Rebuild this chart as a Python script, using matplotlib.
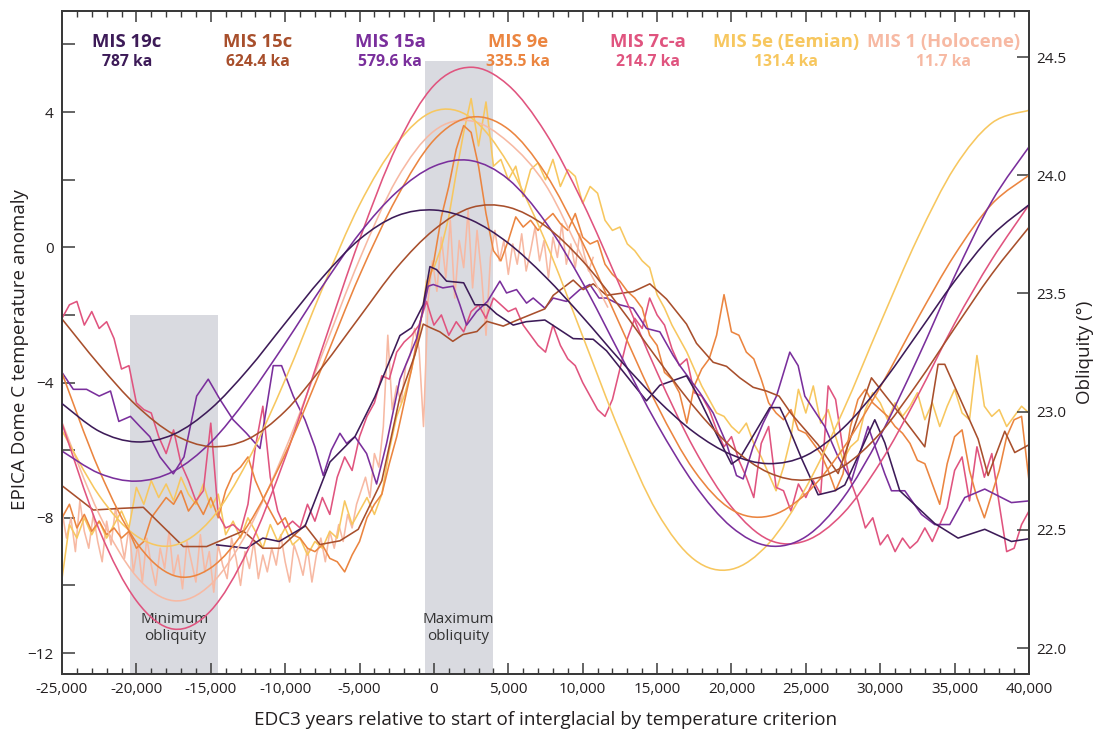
import numpy as np
import matplotlib
matplotlib.use("Agg")
import matplotlib.pyplot as plt
from matplotlib.ticker import MultipleLocator, FixedLocator, FuncFormatter
from matplotlib.path import Path
from matplotlib.patches import PathPatch

plt.rcParams['font.family'] = ['Open Sans', 'DejaVu Sans']

# ---------------- colours / labels ----------------
names = ["MIS 19c", "MIS 15c", "MIS 15a", "MIS 9e", "MIS 7c-a", "MIS 5e (Eemian)", "MIS 1 (Holocene)"]
ages = ["787 ka", "624.4 ka", "579.6 ka", "335.5 ka", "214.7 ka", "131.4 ka", "11.7 ka"]
colors = ["#3d1b58", "#a84f2c", "#7a2f9c", "#eb8540", "#e0547f", "#f7c75f", "#f7b9a3"]
label_x_px = [127, 258, 390, 518, 648, 786, 944]

# ---------------- obliquity (degrees) ----------------
obl_years = [-25000, -22500, -20000, -17500, -15000, -12500, -10000, -7500, -5000, -2500,
             0, 2500, 5000, 7500, 10000, 12500, 15000, 17500, 20000, 22500,
             25000, 27500, 30000, 32500, 35000, 37500, 40000]
obl_19c = [23.034, 22.917, 22.872, 22.904, 23.012, 23.178, 23.374, 23.567, 23.729, 23.828,
           23.853, 23.811, 23.713, 23.570, 23.400, 23.219, 23.051, 22.912, 22.818, 22.780,
           22.814, 22.930, 23.110, 23.329, 23.552, 23.745, 23.875]
obl_15c = [23.392, 23.198, 23.026, 22.904, 22.852, 22.884, 23.002, 23.189, 23.400, 23.609,
           23.769, 23.863, 23.865, 23.785, 23.637, 23.442, 23.225, 23.019, 22.850, 22.742,
           22.711, 22.768, 22.909, 23.119, 23.353, 23.582, 23.780]
obl_15a = [22.833, 22.739, 22.706, 22.748, 22.870, 23.061, 23.289, 23.530, 23.754, 23.929,
           24.038, 24.062, 23.983, 23.802, 23.545, 23.244, 22.947, 22.693, 22.512, 22.432,
           22.471, 22.634, 22.898, 23.223, 23.573, 23.890, 24.120]
obl_9e = [23.163, 22.752, 22.447, 22.307, 22.339, 22.520, 22.820, 23.192, 23.576, 23.905,
          24.149, 24.246, 24.195, 24.007, 23.714, 23.368, 23.027, 22.750, 22.586, 22.558,
          22.652, 22.844, 23.104, 23.392, 23.663, 23.878, 24.000]
obl_7ca = [22.950, 22.500, 22.200, 22.080, 22.158, 22.415, 22.805, 23.269, 23.728, 24.123,
           24.380, 24.457, 24.381, 24.180, 23.885, 23.532, 23.166, 22.842, 22.597, 22.458,
           22.454, 22.569, 22.784, 23.065, 23.373, 23.643, 23.875]
obl_5e = [22.920, 22.645, 22.474, 22.434, 22.543, 22.793, 23.135, 23.520, 23.875, 24.134,
          24.271, 24.243, 24.048, 23.720, 23.319, 22.915, 22.575, 22.374, 22.333, 22.442,
          22.678, 23.003, 23.373, 23.732, 24.033, 24.221, 24.275]
obl_1_years = [-25000, -22500, -20000, -17500, -15000, -12500, -10000, -7500, -5000, -2500,
               0, 2500, 5000, 7500, 10000, 11700]
obl_1 = [22.955, 22.566, 22.303, 22.200, 22.269, 22.496, 22.839, 23.244, 23.644, 23.983,
         24.187, 24.230, 24.140, 23.960, 23.650, 23.440]

# ---------------- EPICA temperature anomalies ----------------
years_19c = [-14600, -12600, -11500, -10400, -8670, -6990, -5310, -3966, -2286, -1502,
             -718, -270, 180, 850, 2000, 2750, 3540, 4210, 5330, 6200,
             7458, 9362, 10706, 11602, 14290, 15186, 16978, 17650, 18770, 20002,
             20562, 22578, 23250, 23586, 24706, 25826, 26946, 27618, 29634, 30306,
             31314, 33666, 35234, 37026, 38818, 40000]
temp_19c = [-8.8, -8.9, -8.6, -8.7, -8.25, -6.35, -5.6, -4.42, -2.61, -2.38,
            -1.7, -0.57, -0.66, -1.0, -1.05, -1.7, -1.7, -1.97, -2.3, -2.2,
            -2.15, -2.7, -2.72, -3.06, -4.54, -4.08, -3.8, -4.31, -5.33, -6.41,
            -6.24, -4.74, -4.74, -5.05, -6.24, -7.32, -7.2, -7.03, -5.1, -5.78,
            -7.2, -8.17, -8.6, -8.34, -8.7, -8.62]

years_15c = [-25000, -22894, -21000, -19533, -16846, -15278, -12814, -11500, -10350, -8670,
             -7662, -6318, -5086, -3500, -2286, -1278, -718, -270, 400, 1270,
             1950, 2890, 3560, 4658, 5554, 7458, 8018, 9362, 10034, 10706,
             11602, 13394, 14514, 15634, 16978, 17650, 18770, 19666, 20562, 21458,
             22354, 23200, 24034, 25826, 27170, 28962, 29410, 31426, 32994, 33890,
             34338, 36578, 37250, 38370, 39042, 40000]
temp_15c = [-7.05, -7.77, -7.72, -7.69, -8.85, -8.85, -8.39, -8.9, -8.9, -8.22,
            -8.79, -8.68, -8.34, -6.9, -4.42, -3.18, -2.27, -2.37, -2.5, -2.78,
            -2.58, -2.49, -2.19, -2.33, -2.16, -1.82, -1.42, -0.97, -1.25, -1.08,
            -1.42, -1.31, -1.08, -1.53, -2.27, -2.84, -3.40, -3.52, -3.86, -4.14,
            -4.25, -4.4, -4.93, -5.84, -6.69, -4.42, -3.86, -4.99, -5.90, -3.46,
            -3.46, -5.67, -6.75, -5.44, -6.07, -5.84]

years_15a = [-25000, -24240, -23350, -22500, -21740, -21180, -20400, -19760, -19100, -18414,
             -17520, -16800, -15950, -15170, -14380, -13500, -12600, -11694, -10800, -10240,
             -9454, -8670, -8000, -7438, -6900, -6318, -5870, -5310, -4526, -3854,
             -3182, -2286, -1166, -382, -46, 600, 1298, 1746, 2194, 2866,
             3600, 4434, 4882, 5554, 6226, 6674, 7458, 8018, 8914, 9810,
             10482, 11100, 11602, 12498, 13394, 14290, 15186, 16082, 16530, 17200,
             17874, 18770, 19666, 20338, 20786, 21458, 22130, 23026, 23922, 24482,
             24930, 26274, 27170, 28066, 29186, 30306, 30754, 31650, 32770, 33666,
             34674, 35682, 37026, 38818, 40000]
temp_15a = [-3.7, -4.2, -4.2, -4.4, -4.25, -5.15, -5.0, -5.3, -5.6, -6.2,
            -6.7, -6.2, -4.4, -3.9, -4.5, -5.1, -5.5, -5.95, -3.5, -3.5,
            -4.4, -5.1, -5.9, -6.75, -6.0, -5.5, -5.8, -5.6, -6.1, -7.0,
            -5.8, -3.9, -2.7, -1.15, -1.1, -1.2, -1.15, -1.7, -2.3, -1.9,
            -1.6, -1.0, -1.35, -1.25, -1.65, -1.5, -1.8, -1.5, -1.6, -1.25,
            -1.1, -1.5, -1.5, -1.7, -1.8, -2.4, -2.5, -3.2, -3.5, -3.9,
            -4.3, -4.9, -5.8, -6.75, -6.85, -5.9, -5.2, -4.4, -3.1, -3.5,
            -4.4, -5.3, -6.2, -6.9, -5.3, -6.7, -7.2, -7.2, -7.9, -8.2,
            -8.2, -7.4, -7.15, -7.55, -7.5]

# high-resolution records: regular sampling from a start year
start_9e, step_9e = -25000, 500
temp_9e = [-8.0, -7.6, -8.3, -7.9, -8.4, -8.1, -8.5, -8.3, -8.6, -8.4,
           -8.9, -8.7, -8.0, -7.7, -7.4, -7.6, -7.2, -7.8, -7.5, -7.9,
           -7.4, -8.0, -7.2, -6.7, -6.5, -6.2, -6.9, -7.4, -7.8, -8.2,
           -8.0, -8.5, -8.6, -8.9, -9.0, -8.8, -9.2, -9.3, -9.6, -9.1,
           -8.7, -8.0, -7.6, -7.3, -6.4, -5.6, -4.6, -3.6, -2.4, -1.3,
           -0.4, 0.9, 1.8, 2.9, 3.6, 3.4, 2.4, 1.0, -0.1, -0.4,
           0.2, 0.9, 0.6, 0.8, 0.5, 0.8, 1.0, 0.7, 0.5, 1.0,
           0.3, 0.1, 0.2, -0.5, -0.8, -1.0, -1.3, -1.5, -1.8, -2.6,
           -2.9, -3.7, -3.9, -4.3, -5.2, -4.1, -3.6, -3.3, -2.6, -1.4,
           -2.5, -2.6, -3.1, -3.3, -3.9, -4.6, -4.9, -5.1, -4.8, -5.4,
           -5.5, -5.8, -6.1, -6.6, -7.2, -6.7, -5.3, -4.5, -4.2, -4.6,
           -4.8, -5.0, -5.3, -5.5, -5.8, -6.3, -6.4, -7.0, -7.6, -6.4,
           -5.6, -5.4, -6.6, -7.4, -8.0, -7.3, -6.6, -5.6, -5.1, -5.0,
           -6.9]

start_7ca, step_7ca = -25000, 500
temp_7ca = [-2.1, -1.7, -1.6, -2.3, -1.9, -2.4, -2.2, -2.7, -3.6, -3.5,
            -4.6, -4.8, -4.9, -5.6, -6.1, -5.4, -6.4, -6.9, -7.5, -7.2,
            -5.2, -7.9, -8.3, -8.2, -8.4, -7.6, -5.9, -4.7, -6.8, -7.8,
            -8.3, -8.1, -8.3, -7.6, -8.1, -7.4, -7.9, -6.8, -6.2, -6.6,
            -5.6, -5.0, -4.6, -3.8, -3.9, -3.1, -2.8, -2.6, -2.3, -1.6,
            -2.3, -2.0, -2.6, -2.2, -2.5, -1.9, -1.7, -2.1, -1.5, -1.7,
            -1.9, -1.8, -2.3, -2.6, -2.9, -3.1, -2.3, -2.9, -3.3, -3.5,
            -4.0, -4.4, -4.8, -5.0, -4.5, -3.6, -2.7, -2.1, -2.4, -1.5,
            -2.0, -2.3, -3.0, -3.5, -3.3, -4.3, -4.4, -4.8, -5.4, -5.9,
            -5.6, -6.3, -6.8, -7.4, -5.8, -5.3, -7.1, -7.2, -7.8, -7.0,
            -7.4, -6.9, -7.3, -4.1, -4.5, -6.0, -6.9, -7.5, -8.3, -8.0,
            -8.8, -8.5, -9.0, -8.6, -8.9, -8.7, -8.3, -8.7, -8.2, -7.7,
            -6.6, -6.2, -7.5, -5.9, -6.8, -6.1, -7.6, -9.0, -8.9, -8.2,
            -7.8]

start_5e, step_5e = -25000, 500
temp_5e = [-9.8, -8.2, -8.6, -8.0, -8.5, -8.1, -8.6, -8.2, -7.8, -8.3,
           -7.1, -7.6, -6.9, -7.4, -7.0, -7.5, -6.8, -7.3, -7.6, -7.0,
           -7.7, -7.3, -8.5, -8.1, -8.6, -8.0, -8.4, -8.9, -8.2, -8.7,
           -8.3, -8.8, -8.6, -9.1, -8.7, -8.9, -8.4, -8.6, -7.5, -8.2,
           -7.8, -7.4, -7.9, -7.3, -6.0, -5.0, -4.4, -3.6, -2.6, -1.0,
           -0.6, 0.0, 0.9, 2.2, 3.4, 4.4, 3.0, 4.3, 2.4, 2.6,
           2.0, 2.4, 1.5, 2.3, 2.5, 2.0, 2.6, 1.8, 2.3, 2.1,
           1.3, 1.8, 1.6, 0.8, 0.5, 0.6, 0.1, -0.1, -0.4, -0.6,
           -1.4, -1.8, -2.3, -2.7, -3.1, -3.6, -4.1, -4.5, -4.9, -5.0,
           -5.3, -5.5, -5.2, -5.8, -6.2, -6.7, -7.2, -6.5, -5.6, -4.2,
           -4.9, -4.1, -5.2, -4.8, -5.6, -6.3, -5.9, -5.7, -4.8, -4.3,
           -4.6, -5.1, -4.6, -5.0, -4.7, -4.3, -5.1, -4.6, -5.3, -4.7,
           -4.2, -4.9, -5.1, -3.2, -4.7, -5.0, -4.8, -5.3, -5.0, -4.7,
           -4.9]

start_1, step_1 = -25000, 300
temp_1 = [-7.8, -8.6, -8.0, -9.0, -7.5, -8.4, -8.9, -7.9, -8.7, -9.3, -8.1, -8.8, -7.7, -8.5,
          -9.2, -8.3, -9.6, -8.8, -9.9, -8.6, -9.4, -10.0, -8.9, -9.5,
          -8.4, -9.7, -9.1, -10.1, -8.7, -9.3, -9.9, -8.5, -9.6, -9.0,
          -10.2, -8.8, -9.4, -9.8, -8.6, -9.2, -10.0, -9.0, -9.5, -8.7,
          -9.8, -9.1, -9.6, -8.9, -9.4, -8.5, -9.3, -9.9, -8.8, -9.2,
          -9.7, -8.9, -9.9, -9.1, -8.6, -9.3, -8.4, -8.9, -8.2, -8.7, -7.9, -8.3, -7.6,
          -7.2, -6.8, -7.4, -6.1, -6.5, -5.3, -2.6,
          -4.8, -4.1, -4.6, -3.5, -3.2, -2.4, -3.0, -5.3,
          -1.6, -0.4, -1.3, 0.3, -0.9, 0.8, -1.5, 0.2, -0.6, 1.1, -1.2, 0.5, -0.8, -2.6, -0.3, 0.5,
          -0.4, 0.2, -0.8, 0.1, -0.5, 0.4, -0.7, -0.1, 0.6, -0.4, 0.2, -0.9, 0.3, -0.3, 0.7,
          -0.5, 0.1, -0.6, 0.4, -0.2, -0.7, -0.3]

# shaded obliquity windows (years, top of shading in temperature units)
min_window = (-20400, -14500, -2.0)
max_window = (-600, 4000, 5.5)


def smooth_line(xs, ys):
    """Smooth (Catmull-Rom style) Bezier path passing through every data point."""
    P = np.column_stack([xs, ys]).astype(float)
    ext = np.vstack([P[0], P, P[-1]])
    verts = [P[0]]
    codes = [Path.MOVETO]
    for i in range(len(P) - 1):
        p0, p1, p2, p3 = ext[i], ext[i + 1], ext[i + 2], ext[i + 3]
        verts += [p1 + (p2 - p0) / 6.0, p2 - (p3 - p1) / 6.0, p2]
        codes += [Path.CURVE4] * 3
    return Path(verts, codes)


# ---------------- figure ----------------
W, H = 1097, 734
fig = plt.figure(figsize=(W / 100, H / 100), dpi=100)
ax = fig.add_axes([62 / W, 60 / H, 967 / W, 663 / H])
ax2 = ax.twinx()

TLO, THI = -12.62, 6.99
OLO, OHI = 21.89, 24.695
txt = '#231f20'
spine_c = '#3a3a3a'

for (x0, x1, top) in (min_window, max_window):
    ax.fill_between([x0, x1], [TLO, TLO], [top, top], color='#d9dae0', lw=0, zorder=0)

lw = 1.15
yrs_9e = start_9e + step_9e * np.arange(len(temp_9e))
yrs_7ca = start_7ca + step_7ca * np.arange(len(temp_7ca))
yrs_5e = start_5e + step_5e * np.arange(len(temp_5e))
yrs_1 = start_1 + step_1 * np.arange(len(temp_1))

temps = [(years_19c, temp_19c), (years_15c, temp_15c), (years_15a, temp_15a),
         (yrs_9e, temp_9e), (yrs_7ca, temp_7ca), (yrs_5e, temp_5e), (yrs_1, temp_1)]
obls = [(obl_years, obl_19c), (obl_years, obl_15c), (obl_years, obl_15a),
        (obl_years, obl_9e), (obl_years, obl_7ca), (obl_years, obl_5e), (obl_1_years, obl_1)]

draw_order = [6, 5, 4, 3, 2, 1, 0]
for i in draw_order:
    ax.plot(temps[i][0], temps[i][1], color=colors[i], lw=lw, zorder=2 + (6 - i) * 0.1)
    patch = PathPatch(smooth_line(obls[i][0], obls[i][1]), facecolor='none',
                      edgecolor=colors[i], lw=lw, zorder=2 + (6 - i) * 0.1)
    ax2.add_patch(patch)

ax.set_xlim(-25000, 40000)
ax.set_ylim(TLO, THI)
ax2.set_ylim(OLO, OHI)

# x axis
ax.xaxis.set_major_locator(MultipleLocator(5000))
ax.xaxis.set_minor_locator(MultipleLocator(1000))
ax.xaxis.set_major_formatter(FuncFormatter(lambda v, p: f"{int(round(v)):,}"))
ax.tick_params(axis='x', which='major', direction='in', length=8, width=1.1,
               top=True, bottom=True, labelsize=11, colors=spine_c, labelcolor=txt, pad=6)
ax.tick_params(axis='x', which='minor', direction='in', length=4, width=1.0,
               top=True, bottom=True, colors=spine_c)

# left axis
ax.yaxis.set_major_locator(FixedLocator([-12, -8, -4, 0, 4]))
ax.yaxis.set_minor_locator(FixedLocator([-10, -6, -2, 2, 6]))
ax.tick_params(axis='y', which='both', direction='in', length=9, width=1.1,
               left=True, right=False, labelsize=11, colors=spine_c, labelcolor=txt, pad=6)

# right axis
ax2.yaxis.set_major_locator(FixedLocator([22.0, 22.5, 23.0, 23.5, 24.0, 24.5]))
ax2.yaxis.set_major_formatter(FuncFormatter(lambda v, p: f"{v:.1f}"))
ax2.tick_params(axis='y', which='both', direction='in', length=9, width=1.1,
                right=True, left=False, labelsize=11, colors=spine_c, labelcolor=txt, pad=5)

for a in (ax, ax2):
    for s in a.spines.values():
        s.set_linewidth(1.4)
        s.set_color(spine_c)

# window annotations
ax.text(-17400, -11.25, "Minimum\nobliquity", ha='center', va='center', fontsize=11,
        color='#333333', linespacing=1.15, zorder=5)
ax.text(1650, -11.25, "Maximum\nobliquity", ha='center', va='center', fontsize=11,
        color='#333333', linespacing=1.15, zorder=5)

# MIS headers
for name, age, c, xp in zip(names, ages, colors, label_x_px):
    fig.text(xp / W, 1 - 42 / H, name, ha='center', va='center', fontsize=13.3,
             fontweight='bold', color=c)
    fig.text(xp / W, 1 - 62 / H, age, ha='center', va='center', fontsize=11.3,
             fontweight='bold', color=c)

# axis titles
fig.text(546 / W, 1 - 720 / H, "EDC3 years relative to start of interglacial by temperature criterion",
         ha='center', va='center', fontsize=13.6, color=txt)
fig.text(20 / W, 1 - 350 / H, "EPICA Dome C temperature anomaly", ha='center', va='center',
         rotation=90, fontsize=13.5, color=txt)
fig.text(1085 / W, 1 - 352 / H, "Obliquity (°)", ha='center', va='center',
         rotation=90, fontsize=13.5, color=txt)

fig.savefig("out.png", dpi=100)
